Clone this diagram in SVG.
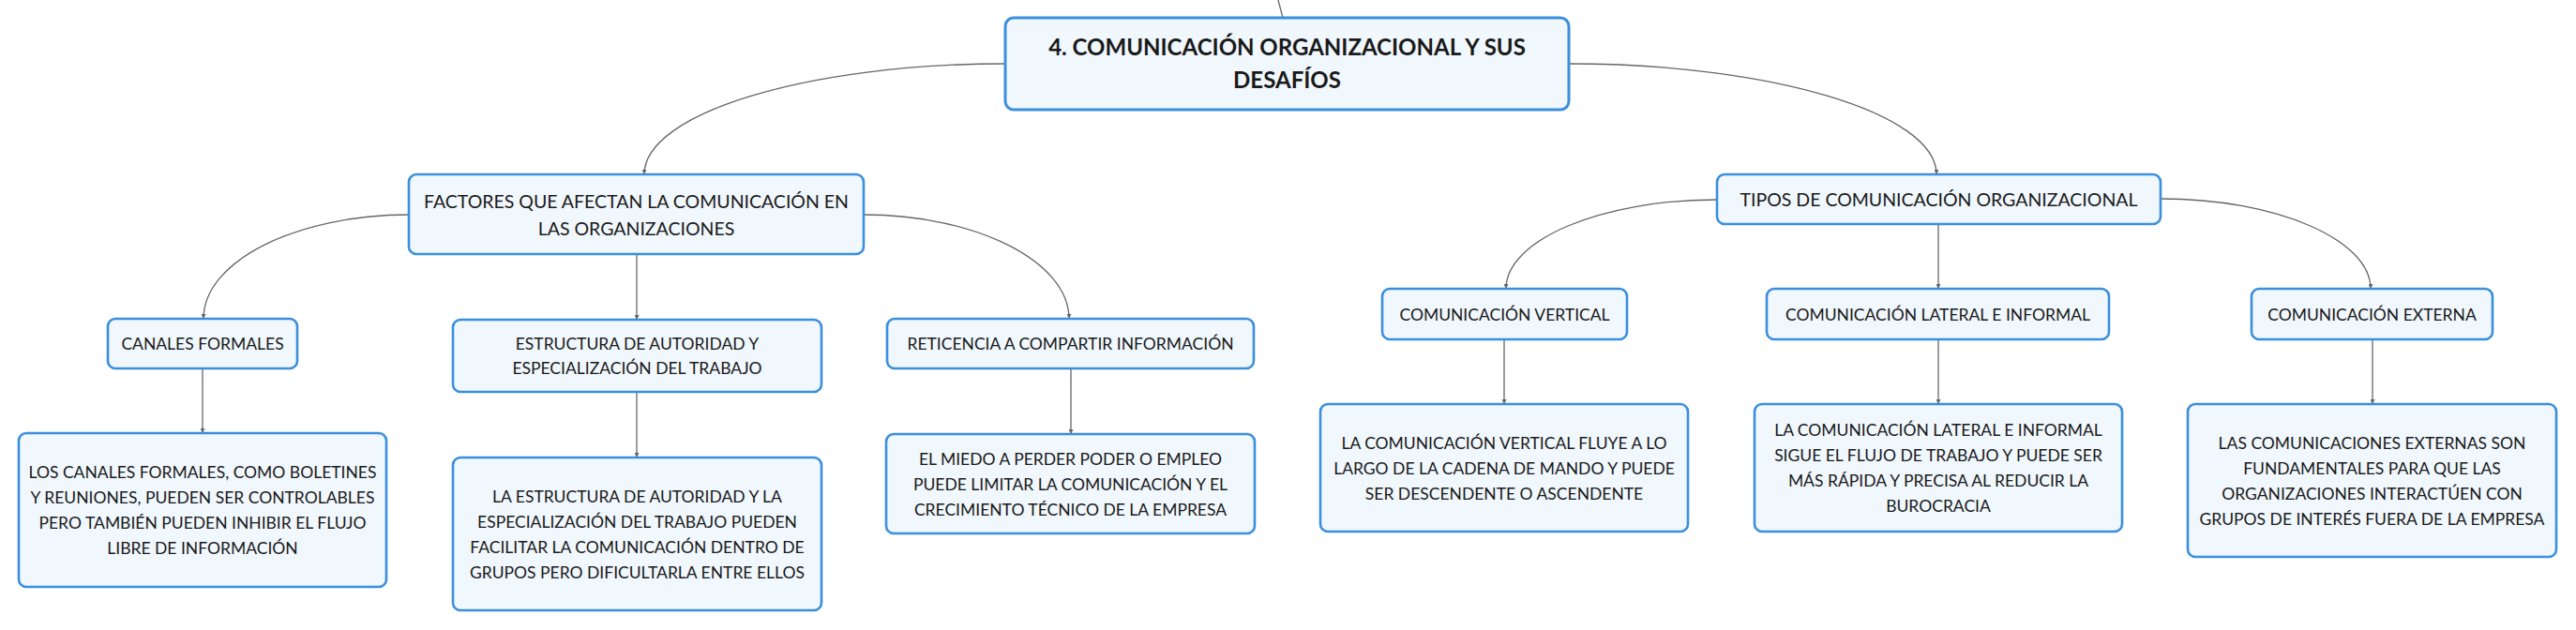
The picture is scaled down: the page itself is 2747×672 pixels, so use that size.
<svg xmlns="http://www.w3.org/2000/svg" width="2747" height="672" viewBox="0 0 2747 672">
<defs>
<style>
.box{fill:#f0f7fd;stroke:#3b8fdc;stroke-width:2.6}
.main{stroke-width:3}
.t{font-family:Lato,"Open Sans","Liberation Sans",sans-serif;fill:#1a1a1a;text-anchor:middle}
.t1{font-size:24px;font-weight:700}
.t2{font-size:19.5px}
.t3{font-size:17.5px}
.c{fill:none;stroke:#666;stroke-width:1.3}
</style>
<marker id="ah" viewBox="0 0 6 6" refX="6" refY="3" markerWidth="5" markerHeight="5" markerUnits="userSpaceOnUse" orient="auto">
<path d="M0,0 L6,3 L0,6 Z" fill="#666"/>
</marker>
</defs>
<rect width="2747" height="672" fill="#ffffff"/>
<g id="connectors">
<path class="c" d="M1363,0 L1368,19"/>
<path class="c" marker-end="url(#ah)" d="M1072,68 C860,68 687,121 687,186"/>
<path class="c" marker-end="url(#ah)" d="M1673,68 C1889,68 2065,121 2065,186"/>
<path class="c" marker-end="url(#ah)" d="M436,229 C315,229 217,279 217,340"/>
<path class="c" marker-end="url(#ah)" d="M679,271 L679,341"/>
<path class="c" marker-end="url(#ah)" d="M921,229 C1041,229 1140,279 1140,340"/>
<path class="c" marker-end="url(#ah)" d="M1831,213 C1707,213 1606,256 1606,308"/>
<path class="c" marker-end="url(#ah)" d="M2067,239 L2067,308"/>
<path class="c" marker-end="url(#ah)" d="M2304,212 C2428,212 2528,256 2528,308"/>
<path class="c" marker-end="url(#ah)" d="M216,393 L216,462"/>
<path class="c" marker-end="url(#ah)" d="M679,418 L679,488"/>
<path class="c" marker-end="url(#ah)" d="M1142,393 L1142,463"/>
<path class="c" marker-end="url(#ah)" d="M1604,362 L1604,431"/>
<path class="c" marker-end="url(#ah)" d="M2067,362 L2067,431"/>
<path class="c" marker-end="url(#ah)" d="M2530,362 L2530,431"/>
</g>
<g id="main">
<rect class="box main" x="1072" y="19" width="601" height="98" rx="9"/>
<text class="t t1" x="1372.5" y="58.5">4. COMUNICACIÓN ORGANIZACIONAL Y SUS</text>
<text class="t t1" x="1372.5" y="93.5">DESAFÍOS</text>
</g>
<g id="factores">
<rect class="box" x="436" y="186" width="485" height="85" rx="8"/>
<text class="t t2" x="678.5" y="222">FACTORES QUE AFECTAN LA COMUNICACIÓN EN</text>
<text class="t t2" x="678.5" y="251">LAS ORGANIZACIONES</text>
</g>
<g id="tipos">
<rect class="box" x="1831" y="186" width="473" height="53" rx="8"/>
<text class="t t2" x="2067.5" y="219.5">TIPOS DE COMUNICACIÓN ORGANIZACIONAL</text>
</g>
<g id="canales">
<rect class="box" x="115" y="340" width="202" height="53" rx="8"/>
<text class="t t3" x="216" y="373">CANALES FORMALES</text>
</g>
<g id="estructura">
<rect class="box" x="483" y="341" width="393" height="77" rx="8"/>
<text class="t t3" x="679.5" y="373">ESTRUCTURA DE AUTORIDAD Y</text>
<text class="t t3" x="679.5" y="399">ESPECIALIZACIÓN DEL TRABAJO</text>
</g>
<g id="reticencia">
<rect class="box" x="946" y="340" width="391" height="53" rx="8"/>
<text class="t t3" x="1141.5" y="373">RETICENCIA A COMPARTIR INFORMACIÓN</text>
</g>
<g id="vertical">
<rect class="box" x="1474" y="308" width="261" height="54" rx="8"/>
<text class="t t3" x="1604.5" y="341.5">COMUNICACIÓN VERTICAL</text>
</g>
<g id="lateral">
<rect class="box" x="1884" y="308" width="365" height="54" rx="8"/>
<text class="t t3" x="2066.5" y="341.5">COMUNICACIÓN LATERAL E INFORMAL</text>
</g>
<g id="externa">
<rect class="box" x="2401" y="308" width="257" height="54" rx="8"/>
<text class="t t3" x="2529.5" y="341.5">COMUNICACIÓN EXTERNA</text>
</g>
<g id="canales-detalle">
<rect class="box" x="20" y="462" width="392" height="164" rx="8"/>
<text class="t t3" x="216" y="510">LOS CANALES FORMALES, COMO BOLETINES</text>
<text class="t t3" x="216" y="537">Y REUNIONES, PUEDEN SER CONTROLABLES</text>
<text class="t t3" x="216" y="564">PERO TAMBIÉN PUEDEN INHIBIR EL FLUJO</text>
<text class="t t3" x="216" y="591">LIBRE DE INFORMACIÓN</text>
</g>
<g id="estructura-detalle">
<rect class="box" x="483" y="488" width="393" height="163" rx="8"/>
<text class="t t3" x="679.5" y="535.5">LA ESTRUCTURA DE AUTORIDAD Y LA</text>
<text class="t t3" x="679.5" y="562.5">ESPECIALIZACIÓN DEL TRABAJO PUEDEN</text>
<text class="t t3" x="679.5" y="589.5">FACILITAR LA COMUNICACIÓN DENTRO DE</text>
<text class="t t3" x="679.5" y="616.5">GRUPOS PERO DIFICULTARLA ENTRE ELLOS</text>
</g>
<g id="reticencia-detalle">
<rect class="box" x="945" y="463" width="393" height="106" rx="8"/>
<text class="t t3" x="1141.5" y="495.5">EL MIEDO A PERDER PODER O EMPLEO</text>
<text class="t t3" x="1141.5" y="522.5">PUEDE LIMITAR LA COMUNICACIÓN Y EL</text>
<text class="t t3" x="1141.5" y="549.5">CRECIMIENTO TÉCNICO DE LA EMPRESA</text>
</g>
<g id="vertical-detalle">
<rect class="box" x="1408" y="431" width="392" height="136" rx="8"/>
<text class="t t3" x="1604" y="478.5">LA COMUNICACIÓN VERTICAL FLUYE A LO</text>
<text class="t t3" x="1604" y="505.5">LARGO DE LA CADENA DE MANDO Y PUEDE</text>
<text class="t t3" x="1604" y="532.5">SER DESCENDENTE O ASCENDENTE</text>
</g>
<g id="lateral-detalle">
<rect class="box" x="1871" y="431" width="392" height="136" rx="8"/>
<text class="t t3" x="2067" y="465">LA COMUNICACIÓN LATERAL E INFORMAL</text>
<text class="t t3" x="2067" y="492">SIGUE EL FLUJO DE TRABAJO Y PUEDE SER</text>
<text class="t t3" x="2067" y="519">MÁS RÁPIDA Y PRECISA AL REDUCIR LA</text>
<text class="t t3" x="2067" y="546">BUROCRACIA</text>
</g>
<g id="externa-detalle">
<rect class="box" x="2333" y="431" width="393" height="163" rx="8"/>
<text class="t t3" x="2529.5" y="478.5">LAS COMUNICACIONES EXTERNAS SON</text>
<text class="t t3" x="2529.5" y="505.5">FUNDAMENTALES PARA QUE LAS</text>
<text class="t t3" x="2529.5" y="532.5">ORGANIZACIONES INTERACTÚEN CON</text>
<text class="t t3" x="2529.5" y="559.5">GRUPOS DE INTERÉS FUERA DE LA EMPRESA</text>
</g>
</svg>
